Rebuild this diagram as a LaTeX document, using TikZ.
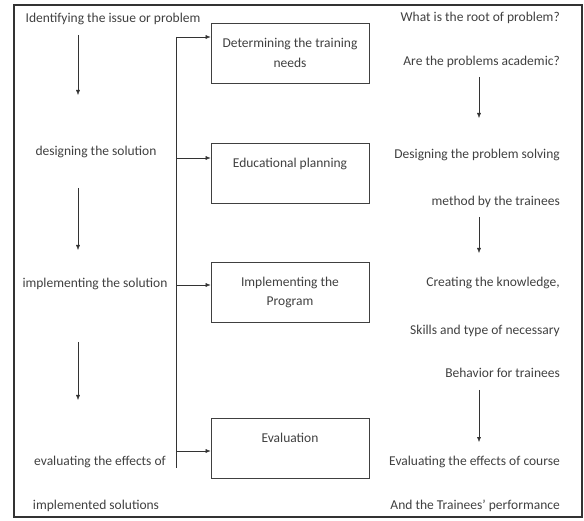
\documentclass[tikz,border=0pt]{standalone}
\usepackage{fontspec}
\setmainfont{Carlito}
\usetikzlibrary{arrows.meta}

\begin{document}
\begin{tikzpicture}[x=1pt,y=-1pt,font=\fontsize{13.5}{15}\selectfont,
  txt/.style={text=black!75,inner sep=0pt},
  stagebox/.style={draw=black!75,thick,minimum width=158pt,minimum height=60pt,align=center,text=black!75}]
  \useasboundingbox (0,0) rectangle (584,521);
  \draw[black!80,line width=1.4pt] (14,5) rectangle (582,517);
  % left column
  \node[txt] (issue) at (113,19) {Identifying the issue or problem};
  \node[txt] (design) at (96,152) {designing the solution};
  \node[txt] (impl) at (95,284) {implementing the solution};
  \node[txt] (eval) at (100,462) {evaluating the effects of};
  \node[txt] (evalb) at (96,506) {implemented solutions};
  \coordinate (la1) at (78,35); \coordinate (lb1) at (78,95);
  \coordinate (la2) at (78,188); \coordinate (lb2) at (78,250);
  \coordinate (la3) at (78,342); \coordinate (lb3) at (78,400);
  \draw[thin,black!80,-{Latex[length=5pt,width=4pt]}] (la1)--(lb1);
  \draw[thin,black!80,-{Latex[length=5pt,width=4pt]}] (la2)--(lb2);
  \draw[thin,black!80,-{Latex[length=5pt,width=4pt]}] (la3)--(lb3);
  % middle boxes
  \node[stagebox] (needs) at (290,53) {Determining the training\\[5pt]needs};
  \node[stagebox] (plan) at (290,173) {Educational planning\\[0pt]\strut};
  \node[stagebox] (prog) at (290,292) {Implementing the\\[4pt]Program};
  \node[stagebox] (evbox) at (290,448) {Evaluation\\[0pt]\strut};
  \coordinate (top) at (176,37);
  \coordinate (bot) at (176,468);
  \coordinate (t2) at (176,158);
  \coordinate (t3) at (176,285);
  \coordinate (t4) at (176,451);
  \draw[thin,black!80] (top)--(bot);
  \draw[thin,black!80,-{Latex[length=5pt,width=4pt]}] (top)--(top -| needs.west);
  \draw[thin,black!80,-{Latex[length=5pt,width=4pt]}] (t2)--(t2 -| plan.west);
  \draw[thin,black!80,-{Latex[length=5pt,width=4pt]}] (t3)--(t3 -| prog.west);
  \draw[thin,black!80,-{Latex[length=5pt,width=4pt]}] (t4)--(t4 -| evbox.west);
  % right column
  \node[txt,anchor=east] (root) at (560,18) {What is the root of problem?};
  \node[txt,anchor=east] (acad) at (560,62) {Are the problems academic?};
  \node[txt,anchor=east] (solv) at (560,155) {Designing the problem solving};
  \node[txt,anchor=east] (meth) at (560,202) {method by the trainees};
  \node[txt,anchor=east] (know) at (560,283) {Creating the knowledge,};
  \node[txt,anchor=east] (skill) at (560,331) {Skills and type of necessary};
  \node[txt,anchor=east] (behav) at (560,373) {Behavior for trainees};
  \node[txt,anchor=east] (course) at (560,462) {Evaluating the effects of course};
  \node[txt,anchor=east] (perf) at (560,506) {And the Trainees' performance};
  \coordinate (ra1) at (479,77); \coordinate (rb1) at (479,118);
  \coordinate (ra2) at (479,217); \coordinate (rb2) at (479,253);
  \coordinate (ra3) at (479,390); \coordinate (rb3) at (479,442);
  \draw[thin,black!80,-{Latex[length=5pt,width=4pt]}] (ra1)--(rb1);
  \draw[thin,black!80,-{Latex[length=5pt,width=4pt]}] (ra2)--(rb2);
  \draw[thin,black!80,-{Latex[length=5pt,width=4pt]}] (ra3)--(rb3);
\end{tikzpicture}
\end{document}
